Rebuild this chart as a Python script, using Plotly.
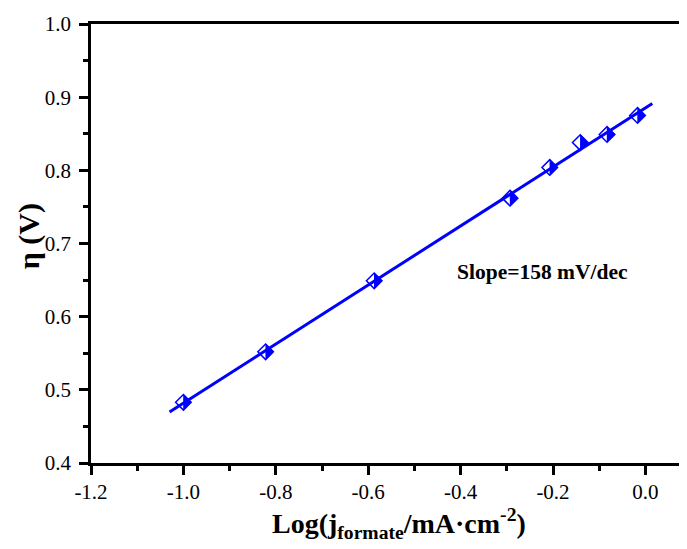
import numpy as np
import plotly.graph_objects as go

# Data
log_j = [-1.0, -0.822, -0.587, -0.293, -0.207, -0.141, -0.083, -0.017]
eta = [0.483, 0.552, 0.649, 0.762, 0.804, 0.838, 0.849, 0.875]
fit_x = [-1.03, 0.015]
slope_label = "Slope=158 mV/dec"
x_tick_vals = [-1.2, -1.0, -0.8, -0.6, -0.4, -0.2, 0.0]
x_tick_text = ["-1.2", "-1.0", "-0.8", "-0.6", "-0.4", "-0.2", "0.0"]
y_tick_vals = [0.4, 0.5, 0.6, 0.7, 0.8, 0.9, 1.0]
y_tick_text = ["0.4", "0.5", "0.6", "0.7", "0.8", "0.9", "1.0"]

BLUE = "#0000FF"
FONT = "Liberation Serif"

# page body has an 8px margin, so the figure is slightly smaller than the window
W, H = 679, 541
ML, MR, MT, MB = 83, 0, 16, 86
X0 = -1.2
PX_PER_X = 462.0
x_range = [X0, X0 + (W - ML - MR) / PX_PER_X]
y_range = [0.4, 1.0]

coef = np.polyfit(log_j, eta, 1)
fit_y = list(np.polyval(coef, fit_x))

# half-filled diamond: open diamond + rotated right-angle triangle (right half)
dia_size = 12
tri_size = 13
tri_shift = 0.39 * (tri_size / 2) / PX_PER_X
tri_x = [v + tri_shift for v in log_j]

fig = go.Figure()
fig.add_trace(go.Scatter(x=fit_x, y=fit_y, mode="lines",
                         line=dict(color=BLUE, width=3), showlegend=False))
fig.add_trace(go.Scatter(x=log_j, y=eta, mode="markers",
                         marker=dict(symbol="diamond-open", size=dia_size,
                                     color=BLUE, line=dict(color=BLUE, width=1.5)),
                         showlegend=False))
fig.add_trace(go.Scatter(x=tri_x, y=eta, mode="markers",
                         marker=dict(symbol="triangle-ne", size=tri_size, angle=45,
                                     color=BLUE, line=dict(width=0)),
                         showlegend=False))

fig.add_annotation(x=-0.223, y=0.661, text="<b>" + slope_label + "</b>",
                   showarrow=False, font=dict(family=FONT, size=21.5, color="black"))

# axis titles placed as annotations to match their offsets
fig.add_annotation(x=-0.534, xref="x", y=-0.137, yref="paper", yanchor="middle",
                   text="<b>Log(j<sub>formate</sub>/mA·cm<sup>-2</sup>)</b>",
                   showarrow=False, font=dict(family=FONT, size=28, color="black"))
fig.add_annotation(x=-0.104, xref="paper", xanchor="center", y=0.71, yref="y",
                   textangle=-90, text="<b>η (V)</b>",
                   showarrow=False, font=dict(family=FONT, size=30, color="black"))

axis_common = dict(showgrid=False, zeroline=False, showline=True, linecolor="black",
                   linewidth=2.5, ticks="outside", ticklen=9, tickwidth=2.5,
                   tickcolor="black", automargin=False,
                   tickfont=dict(family=FONT, size=21, color="black"))

fig.update_xaxes(range=x_range, tickvals=x_tick_vals, ticktext=x_tick_text,
                 mirror=True, ticklabelstandoff=-1,
                 minor=dict(dtick=0.1, ticks="outside", ticklen=5, tickwidth=2.5,
                            tickcolor="black"),
                 **axis_common)
fig.update_yaxes(range=y_range, tickvals=y_tick_vals, ticktext=y_tick_text,
                 ticklabelstandoff=4,
                 minor=dict(dtick=0.05, ticks="outside", ticklen=5, tickwidth=2.5,
                            tickcolor="black"),
                 **axis_common)

fig.update_layout(width=W, height=H, margin=dict(l=ML, r=MR, t=MT, b=MB),
                  plot_bgcolor="white", paper_bgcolor="white")

fig.write_html("out.html")
